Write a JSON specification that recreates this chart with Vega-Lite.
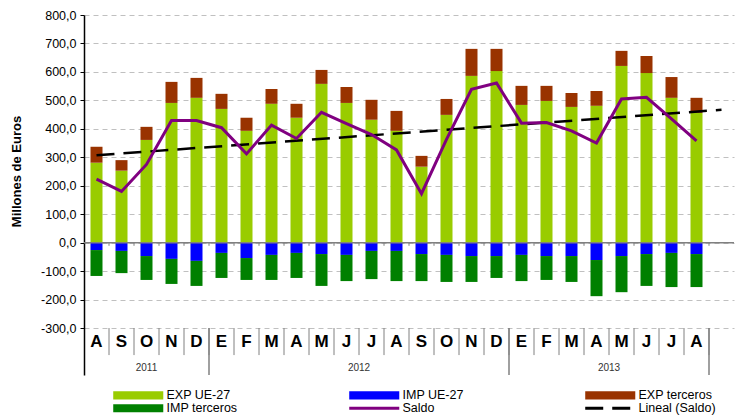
{
  "$schema": "https://vega.github.io/schema/vega-lite/v6.json",
  "autosize": {"type": "none"},
  "padding": {"left": 84, "top": 15, "right": 2, "bottom": 44},
  "width": 650,
  "height": 360,
  "background": "#ffffff",
  "title": {"text": "Frutas (06)", "fontSize": 20, "font": "Liberation Sans", "fontWeight": "bold", "color": "#000000", "baseline": "alphabetic", "offset": 4, "anchor": "middle", "dx": 4},
  "config": {"view": {"stroke": null}, "font": "Liberation Sans",
    "locale": {"number": {"decimal": ",", "thousands": ".", "grouping": [3], "currency": ["", " €"], "minus": "-"}}},
  "datasets": {
    "bars": [
      {"month": "2011-08", "serie": "EXP UE-27", "value": 281}, {"month": "2011-08", "serie": "EXP terceros", "value": 56}, {"month": "2011-08", "serie": "IMP UE-27", "value": -26}, {"month": "2011-08", "serie": "IMP terceros", "value": -91},
      {"month": "2011-09", "serie": "EXP UE-27", "value": 253}, {"month": "2011-09", "serie": "EXP terceros", "value": 37}, {"month": "2011-09", "serie": "IMP UE-27", "value": -29}, {"month": "2011-09", "serie": "IMP terceros", "value": -78},
      {"month": "2011-10", "serie": "EXP UE-27", "value": 361}, {"month": "2011-10", "serie": "EXP terceros", "value": 46}, {"month": "2011-10", "serie": "IMP UE-27", "value": -47}, {"month": "2011-10", "serie": "IMP terceros", "value": -84},
      {"month": "2011-11", "serie": "EXP UE-27", "value": 491}, {"month": "2011-11", "serie": "EXP terceros", "value": 74}, {"month": "2011-11", "serie": "IMP UE-27", "value": -57}, {"month": "2011-11", "serie": "IMP terceros", "value": -88},
      {"month": "2011-12", "serie": "EXP UE-27", "value": 509}, {"month": "2011-12", "serie": "EXP terceros", "value": 70}, {"month": "2011-12", "serie": "IMP UE-27", "value": -64}, {"month": "2011-12", "serie": "IMP terceros", "value": -88},
      {"month": "2012-01", "serie": "EXP UE-27", "value": 470}, {"month": "2012-01", "serie": "EXP terceros", "value": 53}, {"month": "2012-01", "serie": "IMP UE-27", "value": -36}, {"month": "2012-01", "serie": "IMP terceros", "value": -88},
      {"month": "2012-02", "serie": "EXP UE-27", "value": 393}, {"month": "2012-02", "serie": "EXP terceros", "value": 46}, {"month": "2012-02", "serie": "IMP UE-27", "value": -54}, {"month": "2012-02", "serie": "IMP terceros", "value": -77},
      {"month": "2012-03", "serie": "EXP UE-27", "value": 488}, {"month": "2012-03", "serie": "EXP terceros", "value": 52}, {"month": "2012-03", "serie": "IMP UE-27", "value": -43}, {"month": "2012-03", "serie": "IMP terceros", "value": -88},
      {"month": "2012-04", "serie": "EXP UE-27", "value": 439}, {"month": "2012-04", "serie": "EXP terceros", "value": 49}, {"month": "2012-04", "serie": "IMP UE-27", "value": -36}, {"month": "2012-04", "serie": "IMP terceros", "value": -88},
      {"month": "2012-05", "serie": "EXP UE-27", "value": 558}, {"month": "2012-05", "serie": "EXP terceros", "value": 49}, {"month": "2012-05", "serie": "IMP UE-27", "value": -40}, {"month": "2012-05", "serie": "IMP terceros", "value": -112},
      {"month": "2012-06", "serie": "EXP UE-27", "value": 491}, {"month": "2012-06", "serie": "EXP terceros", "value": 56}, {"month": "2012-06", "serie": "IMP UE-27", "value": -43}, {"month": "2012-06", "serie": "IMP terceros", "value": -92},
      {"month": "2012-07", "serie": "EXP UE-27", "value": 432}, {"month": "2012-07", "serie": "EXP terceros", "value": 70}, {"month": "2012-07", "serie": "IMP UE-27", "value": -29}, {"month": "2012-07", "serie": "IMP terceros", "value": -99},
      {"month": "2012-08", "serie": "EXP UE-27", "value": 393}, {"month": "2012-08", "serie": "EXP terceros", "value": 70}, {"month": "2012-08", "serie": "IMP UE-27", "value": -29}, {"month": "2012-08", "serie": "IMP terceros", "value": -106},
      {"month": "2012-09", "serie": "EXP UE-27", "value": 267}, {"month": "2012-09", "serie": "EXP terceros", "value": 38}, {"month": "2012-09", "serie": "IMP UE-27", "value": -40}, {"month": "2012-09", "serie": "IMP terceros", "value": -95},
      {"month": "2012-10", "serie": "EXP UE-27", "value": 449}, {"month": "2012-10", "serie": "EXP terceros", "value": 56}, {"month": "2012-10", "serie": "IMP UE-27", "value": -43}, {"month": "2012-10", "serie": "IMP terceros", "value": -95},
      {"month": "2012-11", "serie": "EXP UE-27", "value": 586}, {"month": "2012-11", "serie": "EXP terceros", "value": 95}, {"month": "2012-11", "serie": "IMP UE-27", "value": -47}, {"month": "2012-11", "serie": "IMP terceros", "value": -91},
      {"month": "2012-12", "serie": "EXP UE-27", "value": 603}, {"month": "2012-12", "serie": "EXP terceros", "value": 78}, {"month": "2012-12", "serie": "IMP UE-27", "value": -47}, {"month": "2012-12", "serie": "IMP terceros", "value": -77},
      {"month": "2013-01", "serie": "EXP UE-27", "value": 484}, {"month": "2013-01", "serie": "EXP terceros", "value": 67}, {"month": "2013-01", "serie": "IMP UE-27", "value": -43}, {"month": "2013-01", "serie": "IMP terceros", "value": -92},
      {"month": "2013-02", "serie": "EXP UE-27", "value": 498}, {"month": "2013-02", "serie": "EXP terceros", "value": 53}, {"month": "2013-02", "serie": "IMP UE-27", "value": -47}, {"month": "2013-02", "serie": "IMP terceros", "value": -84},
      {"month": "2013-03", "serie": "EXP UE-27", "value": 477}, {"month": "2013-03", "serie": "EXP terceros", "value": 49}, {"month": "2013-03", "serie": "IMP UE-27", "value": -47}, {"month": "2013-03", "serie": "IMP terceros", "value": -91},
      {"month": "2013-04", "serie": "EXP UE-27", "value": 481}, {"month": "2013-04", "serie": "EXP terceros", "value": 52}, {"month": "2013-04", "serie": "IMP UE-27", "value": -61}, {"month": "2013-04", "serie": "IMP terceros", "value": -127},
      {"month": "2013-05", "serie": "EXP UE-27", "value": 621}, {"month": "2013-05", "serie": "EXP terceros", "value": 53}, {"month": "2013-05", "serie": "IMP UE-27", "value": -47}, {"month": "2013-05", "serie": "IMP terceros", "value": -127},
      {"month": "2013-06", "serie": "EXP UE-27", "value": 596}, {"month": "2013-06", "serie": "EXP terceros", "value": 60}, {"month": "2013-06", "serie": "IMP UE-27", "value": -40}, {"month": "2013-06", "serie": "IMP terceros", "value": -112},
      {"month": "2013-07", "serie": "EXP UE-27", "value": 509}, {"month": "2013-07", "serie": "EXP terceros", "value": 73}, {"month": "2013-07", "serie": "IMP UE-27", "value": -36}, {"month": "2013-07", "serie": "IMP terceros", "value": -120},
      {"month": "2013-08", "serie": "EXP UE-27", "value": 456}, {"month": "2013-08", "serie": "EXP terceros", "value": 53}, {"month": "2013-08", "serie": "IMP UE-27", "value": -40}, {"month": "2013-08", "serie": "IMP terceros", "value": -116}
    ],
    "saldo": [
      {"month": "2011-08", "serie": "Saldo", "value": 223}, {"month": "2011-09", "serie": "Saldo", "value": 180}, {"month": "2011-10", "serie": "Saldo", "value": 275},
      {"month": "2011-11", "serie": "Saldo", "value": 429}, {"month": "2011-12", "serie": "Saldo", "value": 429}, {"month": "2012-01", "serie": "Saldo", "value": 404},
      {"month": "2012-02", "serie": "Saldo", "value": 312}, {"month": "2012-03", "serie": "Saldo", "value": 413}, {"month": "2012-04", "serie": "Saldo", "value": 366},
      {"month": "2012-05", "serie": "Saldo", "value": 458}, {"month": "2012-06", "serie": "Saldo", "value": 418}, {"month": "2012-07", "serie": "Saldo", "value": 380},
      {"month": "2012-08", "serie": "Saldo", "value": 326}, {"month": "2012-09", "serie": "Saldo", "value": 172}, {"month": "2012-10", "serie": "Saldo", "value": 363},
      {"month": "2012-11", "serie": "Saldo", "value": 539}, {"month": "2012-12", "serie": "Saldo", "value": 561}, {"month": "2013-01", "serie": "Saldo", "value": 420},
      {"month": "2013-02", "serie": "Saldo", "value": 422}, {"month": "2013-03", "serie": "Saldo", "value": 393}, {"month": "2013-04", "serie": "Saldo", "value": 350},
      {"month": "2013-05", "serie": "Saldo", "value": 505}, {"month": "2013-06", "serie": "Saldo", "value": 511}, {"month": "2013-07", "serie": "Saldo", "value": 435},
      {"month": "2013-08", "serie": "Saldo", "value": 358}
    ],
    "trend": [
      {"month": "2011-08", "serie": "Lineal (Saldo)", "value": 307},
      {"month": "2013-09", "serie": "Lineal (Saldo)", "value": 467}
    ],
    "months": [
      {"month": "2011-08", "ini": "A"}, {"month": "2011-09", "ini": "S"}, {"month": "2011-10", "ini": "O"}, {"month": "2011-11", "ini": "N"}, {"month": "2011-12", "ini": "D"},
      {"month": "2012-01", "ini": "E"}, {"month": "2012-02", "ini": "F"}, {"month": "2012-03", "ini": "M"}, {"month": "2012-04", "ini": "A"}, {"month": "2012-05", "ini": "M"}, {"month": "2012-06", "ini": "J"},
      {"month": "2012-07", "ini": "J"}, {"month": "2012-08", "ini": "A"}, {"month": "2012-09", "ini": "S"}, {"month": "2012-10", "ini": "O"}, {"month": "2012-11", "ini": "N"}, {"month": "2012-12", "ini": "D"},
      {"month": "2013-01", "ini": "E"}, {"month": "2013-02", "ini": "F"}, {"month": "2013-03", "ini": "M"}, {"month": "2013-04", "ini": "A"}, {"month": "2013-05", "ini": "M"}, {"month": "2013-06", "ini": "J"},
      {"month": "2013-07", "ini": "J"}, {"month": "2013-08", "ini": "A"}
    ],
    "ticks": [
      {"month": "2011-09"}, {"month": "2011-10"}, {"month": "2011-11"}, {"month": "2011-12"},
      {"month": "2012-01"}, {"month": "2012-02"}, {"month": "2012-03"}, {"month": "2012-04"}, {"month": "2012-05"}, {"month": "2012-06"},
      {"month": "2012-07"}, {"month": "2012-08"}, {"month": "2012-09"}, {"month": "2012-10"}, {"month": "2012-11"}, {"month": "2012-12"},
      {"month": "2013-01"}, {"month": "2013-02"}, {"month": "2013-03"}, {"month": "2013-04"}, {"month": "2013-05"}, {"month": "2013-06"},
      {"month": "2013-07"}, {"month": "2013-08"}, {"month": "2013-09"}
    ],
    "yearsep": [{"month": "2012-01"}, {"month": "2013-01"}, {"month": "2013-09"}],
    "year2011": [{"month": "2011-10", "year": "2011"}],
    "yearsOther": [{"month": "2012-07", "year": "2012"}, {"month": "2013-05", "year": "2013"}]
  },
  "layer": [
    {
      "data": {"name": "bars"},
      "mark": {"type": "bar", "size": 12},
      "encoding": {
        "x": {"field": "month", "type": "ordinal",
          "scale": {"domain": ["2011-08","2011-09","2011-10","2011-11","2011-12","2012-01","2012-02","2012-03","2012-04","2012-05","2012-06","2012-07","2012-08","2012-09","2012-10","2012-11","2012-12","2013-01","2013-02","2013-03","2013-04","2013-05","2013-06","2013-07","2013-08","2013-09"], "paddingInner": 0, "paddingOuter": 0},
          "axis": null},
        "y": {"field": "value", "type": "quantitative", "stack": "zero",
          "scale": {"domain": [-465, 800], "nice": false, "zero": false},
          "axis": {"values": [-300,-200,-100,0,100,200,300,400,500,600,700,800], "tickCount": 30, "format": ".1f",
            "grid": true, "gridDash": [5, 4], "gridColor": "#c0c0c0", "gridWidth": 1,
            "domainColor": "#000000", "domainWidth": 1.5, "tickColor": "#000000", "tickSize": 4,
            "labelFont": "Liberation Sans", "labelFontSize": 12.5, "labelColor": "#000000", "labelPadding": 4,
            "title": "Millones de Euros", "titleFont": "Liberation Sans", "titleFontSize": 13, "titleFontWeight": "bold", "titleColor": "#000000",
            "titleX": -61, "titleY": 156}},
        "order": {"field": "serie", "type": "nominal", "sort": "ascending"},
        "color": {"field": "serie", "type": "nominal",
          "scale": {"domain": ["EXP UE-27","IMP UE-27","EXP terceros","IMP terceros","Saldo","Lineal (Saldo)"], "range": ["#99CC00","#0000FF","#993300","#008000","#800080","#000000"]},
          "legend": {"orient": "none", "legendX": 48, "legendY": 374, "columns": 3, "direction": "horizontal", "title": null,
            "symbolType": "M-4.17,-0.67H4.17V0.67H-4.17Z", "symbolSize": 144, "symbolStrokeWidth": 0,
            "labelFont": "Liberation Sans", "labelFontSize": 12.5, "labelColor": "#000000", "labelOffset": 22, "labelLimit": 200,
            "rowPadding": 0, "columnPadding": 105, "gridAlign": "all",
            "encode": {"symbols": {"update": {
              "shape": {"signal": "datum.label === 'Saldo' ? 'M-4.17,-0.25H4.17V0.25H-4.17Z' : (datum.label === 'Lineal (Saldo)' ? 'M-4.17,-0.25H-1.17V0.25H-4.17Z M0.33,-0.25H3.33V0.25H0.33Z' : 'M-4.17,-0.67H4.17V0.67H-4.17Z')"},
              "fill": {"scale": "color", "field": "value"},
              "opacity": {"value": 1}}}}}}
      }
    },
    {
      "data": {"values": [{}]},
      "mark": {"type": "rule", "color": "#808080", "strokeWidth": 1.5},
      "encoding": {"y": {"datum": 0, "type": "quantitative"}}
    },
    {
      "data": {"name": "ticks"},
      "mark": {"type": "rule", "color": "#808080", "strokeWidth": 1},
      "encoding": {
        "x": {"field": "month", "type": "ordinal", "bandPosition": 0},
        "y": {"datum": 0, "type": "quantitative"},
        "y2": {"datum": -11}
      }
    },
    {
      "data": {"name": "ticks"},
      "mark": {"type": "rule", "color": "#808080", "strokeWidth": 1},
      "encoding": {
        "x": {"field": "month", "type": "ordinal", "bandPosition": 0},
        "y": {"datum": -300, "type": "quantitative"},
        "y2": {"datum": -395}
      }
    },
    {
      "data": {"name": "months"},
      "mark": {"type": "text", "fontSize": 17, "fontWeight": "bold", "font": "Liberation Sans", "color": "#000000", "baseline": "middle", "align": "center"},
      "encoding": {
        "x": {"field": "month", "type": "ordinal"},
        "y": {"datum": -348, "type": "quantitative"},
        "text": {"field": "ini"}
      }
    },
    {
      "data": {"name": "yearsep"},
      "mark": {"type": "rule", "color": "#808080", "strokeWidth": 1.5},
      "encoding": {
        "x": {"field": "month", "type": "ordinal", "bandPosition": 0},
        "y": {"datum": -300, "type": "quantitative"},
        "y2": {"datum": -465}
      }
    },
    {
      "data": {"name": "year2011"},
      "mark": {"type": "text", "fontSize": 10, "font": "Liberation Sans", "color": "#333333", "baseline": "middle", "align": "center"},
      "encoding": {
        "x": {"field": "month", "type": "ordinal", "bandPosition": 0.5},
        "y": {"datum": -439, "type": "quantitative"},
        "text": {"field": "year"}
      }
    },
    {
      "data": {"name": "yearsOther"},
      "mark": {"type": "text", "fontSize": 10, "font": "Liberation Sans", "color": "#333333", "baseline": "middle", "align": "center"},
      "encoding": {
        "x": {"field": "month", "type": "ordinal", "bandPosition": 0},
        "y": {"datum": -439, "type": "quantitative"},
        "text": {"field": "year"}
      }
    },
    {
      "data": {"name": "trend"},
      "mark": {"type": "line", "strokeWidth": 2.5, "strokeDash": [18, 9]},
      "encoding": {
        "x": {"field": "month", "type": "ordinal"},
        "y": {"field": "value", "type": "quantitative"},
        "color": {"field": "serie", "type": "nominal"}
      }
    },
    {
      "data": {"name": "saldo"},
      "mark": {"type": "line", "strokeWidth": 3},
      "encoding": {
        "x": {"field": "month", "type": "ordinal"},
        "y": {"field": "value", "type": "quantitative"},
        "color": {"field": "serie", "type": "nominal"}
      }
    }
  ]
}
